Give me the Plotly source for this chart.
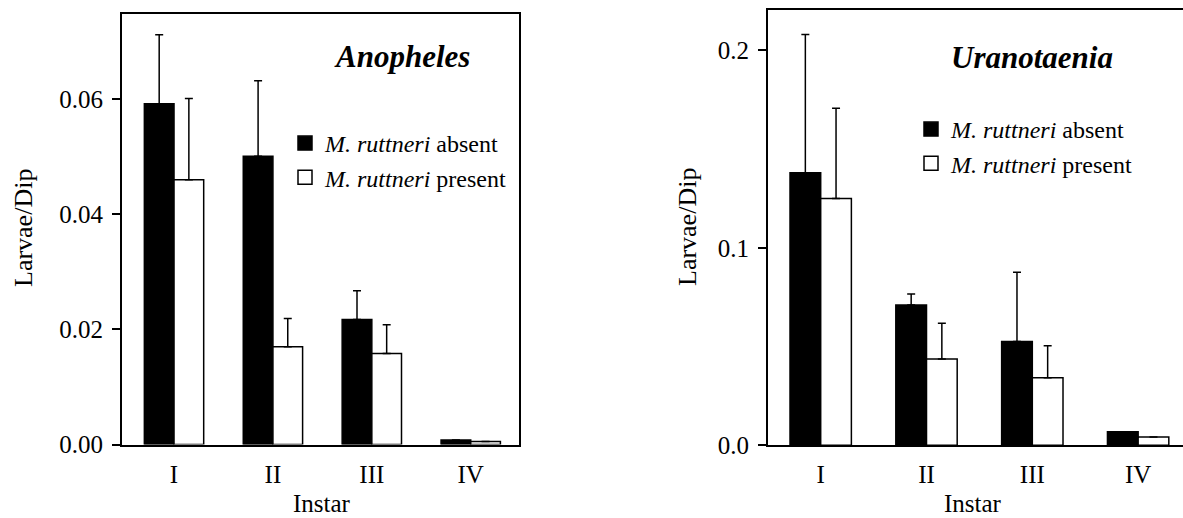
import plotly.graph_objects as go

# ---------------- data ----------------
instars = ["I", "II", "III", "IV"]

anoph_absent = [0.0592, 0.0501, 0.0217, 0.0008]
anoph_absent_err = [0.0120, 0.0131, 0.0050, 0.0]
anoph_present = [0.0460, 0.0170, 0.0158, 0.0005]
anoph_present_err = [0.0141, 0.0049, 0.0050, 0.0]

urano_absent = [0.138, 0.0710, 0.0525, 0.0069]
urano_absent_err = [0.0700, 0.0056, 0.0351, 0.0]
urano_present = [0.125, 0.0437, 0.0342, 0.0042]
urano_present_err = [0.0456, 0.0181, 0.0162, 0.0]

label_absent = "<i>M. ruttneri</i> absent"
label_present = "<i>M. ruttneri</i> present"

FONT = "Liberation Serif"
W, H = 1183, 518

fig = go.Figure()

def add_pair(xa, ya, absent, aerr, present, perr, w):
    fig.add_trace(go.Bar(
        x=instars, y=absent, xaxis=xa, yaxis=ya,
        width=w, offset=-w,
        marker=dict(color="black", line=dict(color="black", width=1.5)),
        error_y=dict(type="data", array=aerr, arrayminus=[0]*len(aerr), symmetric=False,
                     color="black", thickness=1.5, width=4),
        showlegend=False, hoverinfo="y"))
    fig.add_trace(go.Bar(
        x=instars, y=present, xaxis=xa, yaxis=ya,
        width=w, offset=0,
        marker=dict(color="white", line=dict(color="black", width=1.5)),
        error_y=dict(type="data", array=perr, arrayminus=[0]*len(perr), symmetric=False,
                     color="black", thickness=1.5, width=4),
        showlegend=False, hoverinfo="y"))

add_pair("x", "y", anoph_absent, anoph_absent_err, anoph_present, anoph_present_err, 0.30)
add_pair("x2", "y2", urano_absent, urano_absent_err, urano_present, urano_present_err, 0.29)

# legend entries
for leg, xa, ya in [("legend", "x", "y"), ("legend2", "x2", "y2")]:
    fig.add_trace(go.Scatter(x=[None], y=[None], xaxis=xa, yaxis=ya, mode="markers",
                             name=label_absent, legend=leg,
                             marker=dict(symbol="square", size=14, color="black",
                                         line=dict(color="black", width=1.5))))
    fig.add_trace(go.Scatter(x=[None], y=[None], xaxis=xa, yaxis=ya, mode="markers",
                             name=label_present, legend=leg,
                             marker=dict(symbol="square", size=14, color="white",
                                         line=dict(color="black", width=1.5))))

def px_x(v):
    return v / W

def px_y(v):
    return (H - v) / H

axis_common = dict(showgrid=False, zeroline=False, linecolor="black", linewidth=2,
                   automargin=False,
                   tickfont=dict(family=FONT, size=25, color="black"))

fig.update_layout(
    width=W, height=H,
    margin=dict(l=0, r=0, t=0, b=0, pad=0),
    paper_bgcolor="white", plot_bgcolor="white",
    barmode="group",
    font=dict(family=FONT, color="black"),
    xaxis=dict(domain=[px_x(122), px_x(519)], range=[-0.526, 3.488], anchor="y",
               showline=True, mirror=True, ticks="", ticklabelstandoff=6,
               **axis_common),
    yaxis=dict(domain=[px_y(444.5), px_y(14)], range=[0, 0.0748], anchor="x",
               showline=True, mirror=True, ticks="outside", ticklen=8, tickwidth=2,
               tickcolor="black", tickvals=[0, 0.02, 0.04, 0.06], tickformat=".2f",
               ticklabelstandoff=4, **axis_common),
    xaxis2=dict(domain=[px_x(768), 1.0], range=[-0.498, 3.424], anchor="y2",
                showline=True, mirror=True, ticks="", ticklabelstandoff=6,
                **axis_common),
    yaxis2=dict(domain=[px_y(445.3), px_y(10)], range=[0, 0.2204], anchor="x2",
                showline=True, mirror=False, ticks="outside", ticklen=8, tickwidth=2,
                tickcolor="black", tickvals=[0, 0.1, 0.2], tickformat=".1f",
                ticklabelstandoff=4, **axis_common),
    legend=dict(x=px_x(285), y=px_y(121), xanchor="left", yanchor="top",
                bgcolor="rgba(0,0,0,0)", font=dict(family=FONT, size=24, color="black"),
                tracegroupgap=0, itemsizing="trace"),
    legend2=dict(x=px_x(911), y=px_y(107), xanchor="left", yanchor="top",
                 bgcolor="rgba(0,0,0,0)", font=dict(family=FONT, size=24, color="black"),
                 tracegroupgap=0, itemsizing="trace"),
    annotations=[
        dict(text="<b><i>Anopheles</i></b>", x=px_x(402), y=px_y(56), xref="paper", yref="paper",
             showarrow=False, font=dict(family=FONT, size=31, color="black"),
             xanchor="center", yanchor="middle"),
        dict(text="<b><i>Uranotaenia</i></b>", x=px_x(1032), y=px_y(57), xref="paper", yref="paper",
             showarrow=False, font=dict(family=FONT, size=31, color="black"),
             xanchor="center", yanchor="middle"),
        dict(text="Larvae/Dip", x=px_x(23), y=px_y(228), xref="paper", yref="paper",
             showarrow=False, textangle=-90, font=dict(family=FONT, size=26, color="black"),
             xanchor="center", yanchor="middle"),
        dict(text="Larvae/Dip", x=px_x(687), y=px_y(227), xref="paper", yref="paper",
             showarrow=False, textangle=-90, font=dict(family=FONT, size=26, color="black"),
             xanchor="center", yanchor="middle"),
        dict(text="Instar", x=px_x(322), y=px_y(503), xref="paper", yref="paper",
             showarrow=False, font=dict(family=FONT, size=25, color="black"),
             xanchor="center", yanchor="middle"),
        dict(text="Instar", x=px_x(973), y=px_y(503), xref="paper", yref="paper",
             showarrow=False, font=dict(family=FONT, size=25, color="black"),
             xanchor="center", yanchor="middle"),
    ],
)

fig.write_html("out.html", config={"displayModeBar": False},
               post_script="document.body.style.margin='0';document.body.style.overflow='hidden';")
